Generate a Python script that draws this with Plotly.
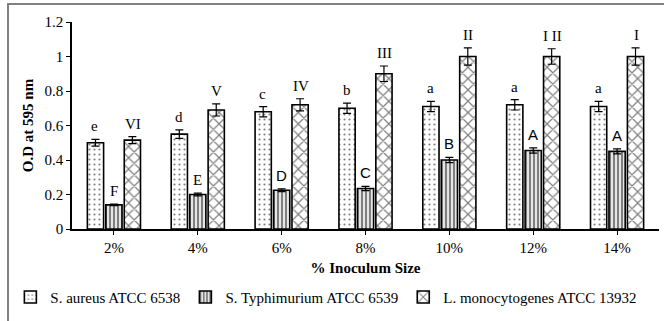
import plotly.graph_objects as go

categories = ["2%", "4%", "6%", "8%", "10%", "12%", "14%"]
aureus = [0.50, 0.55, 0.68, 0.70, 0.71, 0.72, 0.71]
aureus_err = [0.02, 0.025, 0.03, 0.03, 0.03, 0.03, 0.03]
typh = [0.14, 0.20, 0.225, 0.235, 0.40, 0.455, 0.45]
typh_err = [0.005, 0.008, 0.008, 0.012, 0.015, 0.015, 0.015]
listeria = [0.515, 0.69, 0.72, 0.90, 1.00, 1.00, 1.00]
listeria_err = [0.02, 0.035, 0.035, 0.045, 0.05, 0.045, 0.05]
aureus_lbl = ["e", "d", "c", "b", "a", "a", "a"]
typh_lbl = ["F", "E", "D", "C", "B", "A", "A"]
listeria_lbl = ["VI", "V", "IV", "III", "II", "I II", "I"]

serif = "Liberation Serif"

def bar(name, y, err, shape, size, solid):
    return go.Bar(
        name=name, x=categories, y=y,
        error_y=dict(type="data", array=err, color="black", thickness=1.2, width=4),
        marker=dict(color="white", line=dict(color="black", width=1.6),
                    pattern=dict(shape=shape, size=size, solidity=solid, fgcolor="black", bgcolor="white")),
    )

fig = go.Figure()
fig.add_trace(bar("S. aureus ATCC 6538", aureus, aureus_err, ".", 5, 0.15))
fig.add_trace(bar("S. Typhimurium ATCC 6539", typh, typh_err, "|", 4, 0.6))
fig.add_trace(bar("L. monocytogenes ATCC 13932", listeria, listeria_err, "x", 8, 0.28))

# letters above bars
offsets = [-1, 0, 1]
series = [(aureus, aureus_err, aureus_lbl), (typh, typh_err, typh_lbl), (listeria, listeria_err, listeria_lbl)]
for si, (vals, errs, lbls) in enumerate(series):
    for ci, cat in enumerate(categories):
        fam = serif
        if si == 1 and lbls[ci] in ("D", "C", "B", "A"):
            fam = "Liberation Sans"
        fig.add_annotation(x=cat, y=vals[ci] + errs[ci], text=lbls[ci], showarrow=False,
                           xshift=offsets[si] * 19, yanchor="bottom", yshift=3,
                           font=dict(family=fam, size=15, color="black"))

fig.add_shape(type="rect", xref="paper", yref="paper", x0=-0.109, x1=1.2, y0=-2, y1=1.087,
              line=dict(color="#808080", width=2), fillcolor="rgba(0,0,0,0)")

fig.update_layout(
    width=664, height=321,
    margin=dict(l=72, r=5, t=22, b=92, autoexpand=False),
    paper_bgcolor="white", plot_bgcolor="white",
    font=dict(family=serif, size=15, color="black"),
    barmode="group", bargap=0.34, bargroupgap=0.12,
    showlegend=True,
    legend=dict(orientation="h", x=-0.105, xanchor="left", y=-0.33, yanchor="middle",
                font=dict(family=serif, size=15), itemwidth=30, traceorder="normal",
                tracegroupgap=0),
    xaxis=dict(showline=True, linecolor="black", linewidth=1.5, ticks="outside", ticklen=4,
               tickcolor="black",
               title=dict(text="<b>% Inoculum Size</b>", font=dict(family=serif, size=15), standoff=8)),
    yaxis=dict(range=[0, 1.2], dtick=0.2, showline=True, linecolor="black", linewidth=1.5,
               ticks="outside", ticklen=4, tickcolor="black", showgrid=False, zeroline=False,
               tickformat="~g",
               title=dict(text="<b>O.D at 595 nm</b>", font=dict(family=serif, size=15), standoff=7)),
)

fig.write_html("out.html", config={"displayModeBar": False},
               post_script="document.body.style.margin='0';")
